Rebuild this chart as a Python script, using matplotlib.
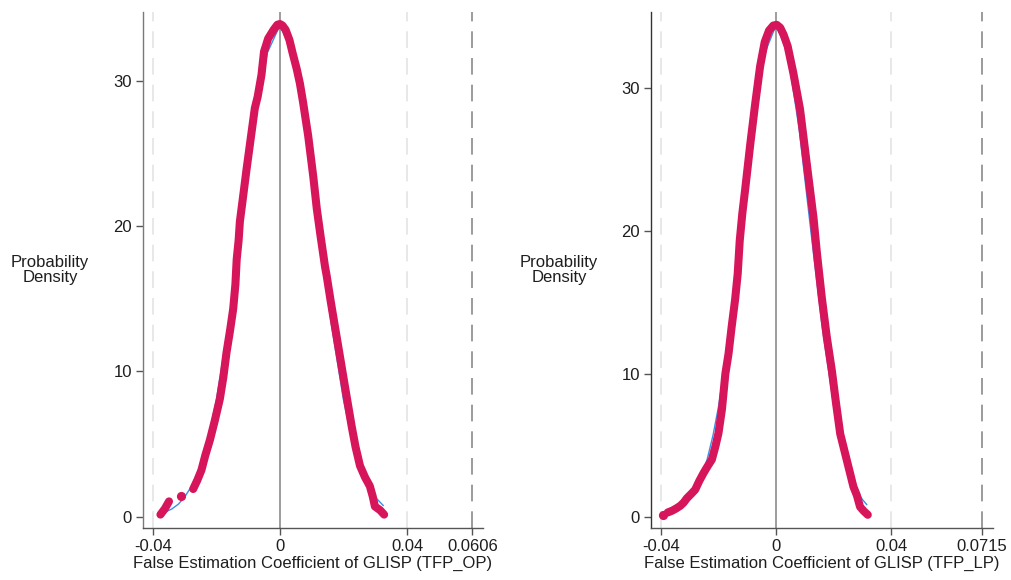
import numpy as np
import matplotlib
matplotlib.use("Agg")
import matplotlib.pyplot as plt

plt.rcParams['font.family'] = ['Liberation Sans', 'DejaVu Sans']

nan = np.nan

# ---- Left panel (TFP_OP) ----
op_red_x = [-0.0376, -0.0362, -0.0349, nan, -0.0310, nan,
            -0.0273, -0.0260, -0.0247, -0.0235, -0.0220, -0.0205, -0.0189, -0.0178,
            -0.0168, -0.0157, -0.0147, -0.0140, -0.0136, -0.0130, -0.0126, -0.0116,
            -0.0105, -0.0092, -0.0079, -0.0070, -0.0058, -0.0050, -0.0037, -0.0020,
            -0.0008, 0.0, 0.0008, 0.0018, 0.0030, 0.0040, 0.0053, 0.0063, 0.0073, 0.0089, 0.0105,
            0.0116, 0.0128, 0.0142, 0.0147, 0.0160, 0.0173, 0.0186, 0.0199, 0.0212,
            0.0226, 0.0238, 0.0252, 0.0268, 0.0283, 0.0292, 0.0299, 0.0315, 0.0328]
op_red_y = [0.14, 0.55, 1.05, nan, 1.45, nan,
            1.9, 2.5, 3.2, 4.2, 5.3, 6.6, 8.1, 9.6,
            11.3, 12.8, 14.3, 16.0, 17.7, 19.0, 20.3, 22.0,
            23.9, 26.0, 28.1, 28.9, 30.4, 32.0, 32.9, 33.5,
            33.85, 33.9, 33.8, 33.5, 32.8, 31.9, 30.8, 29.8, 28.5, 26.2, 23.4,
            21.2, 19.3, 17.2, 16.6, 14.8, 13.1, 11.4, 9.7, 8.0,
            6.2, 4.8, 3.5, 2.7, 2.1, 1.4, 0.7, 0.45, 0.14]
op_blue_x = [-0.0362, -0.034, -0.032, -0.030, -0.028, -0.026, -0.024, -0.022, -0.020,
             -0.016, -0.012, -0.008, -0.004, 0.0, 0.004, 0.008, 0.012, 0.016, 0.020,
             0.022, 0.024, 0.026, 0.028, 0.030, 0.0325]
op_blue_y = [0.30, 0.53, 0.85, 1.34, 2.03, 2.98, 4.27, 5.94, 8.04,
             13.5, 20.2, 26.9, 31.9, 33.8, 31.9, 26.9, 20.2, 13.5, 8.04,
             5.94, 4.27, 2.98, 2.03, 1.34, 0.77]
op_xticks = [-0.04, 0, 0.04, 0.0606]
op_xticklabels = ['-0.04', '0', '0.04', '0.0606']
op_xlabel = 'False Estimation Coefficient of GLISP (TFP_OP)'

# ---- Right panel (TFP_LP) ----
lp_red_x = [-0.0394, nan, -0.0378, -0.0361, -0.0347, -0.0334, -0.0322, -0.0311, -0.0296,
            -0.0282, -0.0268, -0.0253, -0.0240, -0.0224, -0.0212, -0.0201, -0.0189,
            -0.0177, -0.0166, -0.0155, -0.0143, -0.0134, -0.0127, -0.0118, -0.0108,
            -0.0090, -0.0073, -0.0056, -0.0040, -0.0025, -0.0010, 0.0002, 0.0014, 0.0026,
            0.0040, 0.0060, 0.0083, 0.0107, 0.0130, 0.0142, 0.0159, 0.0176, 0.0194, 0.0208,
            0.0223, 0.0246, 0.0269, 0.0281, 0.0292, 0.0305, 0.0319]
lp_red_y = [0.14, nan, 0.30, 0.44, 0.60, 0.77, 1.0, 1.3, 1.6,
            1.9, 2.5, 3.06, 3.5, 4.0, 4.9, 5.85, 7.5,
            10.0, 11.4, 13.3, 15.2, 17.0, 19.3, 21.2, 22.9,
            26.1, 28.9, 31.5, 33.2, 34.0, 34.35, 34.4, 34.2, 33.7,
            32.9, 31.0, 28.5, 24.6, 20.9, 18.4, 15.3, 12.6, 10.2, 8.0,
            5.8, 3.95, 2.1, 1.5, 0.7, 0.4, 0.14]
lp_blue_x = [-0.039, -0.038, -0.036, -0.034, -0.032, -0.030, -0.028, -0.026, -0.024,
             -0.022, -0.020, -0.016, -0.012, -0.008, -0.004, 0.0, 0.004, 0.008, 0.012,
             0.016, 0.020, 0.022, 0.024, 0.026, 0.028, 0.030, 0.0315]
lp_blue_y = [0.12, 0.16, 0.28, 0.47, 0.77, 1.22, 1.87, 2.8, 4.05,
             5.7, 7.8, 13.3, 20.1, 27.1, 32.4, 34.4, 32.4, 27.1, 20.1,
             13.3, 7.8, 5.7, 4.05, 2.8, 1.87, 1.22, 0.86]
lp_xticks = [-0.04, 0, 0.04, 0.0715]
lp_xticklabels = ['-0.04', '0', '0.04', '0.0715']
lp_xlabel = 'False Estimation Coefficient of GLISP (TFP_LP)'

yticks = [0, 10, 20, 30]
ylabel = 'Probability\nDensity'

RED = '#d6155b'
BLUE = '#3d8ee6'
TXT = '#1e1e1e'
FS = 12

fig = plt.figure(figsize=(10.11, 5.80), dpi=100)
ax1 = fig.add_axes([0.1414, 0.0897, 0.3363, 0.8897])
ax2 = fig.add_axes([0.6439, 0.0897, 0.3383, 0.8897])


def isolated(x):
    """indices of points standing alone between gaps"""
    idx = []
    n = len(x)
    for i in range(n):
        if np.isnan(x[i]):
            continue
        left = i == 0 or np.isnan(x[i - 1])
        right = i == n - 1 or np.isnan(x[i + 1])
        if left and right:
            idx.append(i)
    return idx


def panel(ax, rx, ry, bx, by, xt, xtl, xlab, xlim, ylim, spine_col):
    lo, mid, hi, far = xt
    ax.axvline(lo, color='#e4e4e4', lw=1.2, ls=(0, (10, 6)), zorder=1)
    ax.axvline(hi, color='#e4e4e4', lw=1.2, ls=(0, (10, 6)), zorder=1)
    ax.axvline(far, color='#8a8a8a', lw=1.2, ls=(0, (10, 6)), zorder=1)
    ax.axvline(mid, color='#8c8c8c', lw=1.2, zorder=1)
    ax.plot(bx, by, color=BLUE, lw=1.0, zorder=2)
    iso = isolated(rx)
    ax.plot(rx, ry, color=RED, lw=5.8, solid_capstyle='round',
            solid_joinstyle='round', marker='o' if iso else None,
            markevery=iso if iso else None, ms=6.6, mew=0, zorder=3)
    ax.set_xlim(*xlim)
    ax.set_ylim(*ylim)
    ax.set_xticks(xt)
    ax.set_xticklabels(xtl)
    ax.set_yticks(yticks)
    ax.set_xlabel(xlab, fontsize=FS, color=TXT, labelpad=1)
    for s in ['top', 'right']:
        ax.spines[s].set_visible(False)
    ax.spines['left'].set_color(spine_col)
    ax.spines['bottom'].set_color('#555555')
    ax.spines['left'].set_linewidth(1.0)
    ax.spines['bottom'].set_linewidth(1.0)
    ax.tick_params(axis='both', colors='#555555', labelcolor=TXT,
                   labelsize=FS, length=5, width=1.0, pad=3)


panel(ax1, op_red_x, op_red_y, op_blue_x, op_blue_y, op_xticks, op_xticklabels,
      op_xlabel, (-0.0431, 0.0639), (-0.78, 34.73), '#7a7a7a')
panel(ax2, lp_red_x, lp_red_y, lp_blue_x, lp_blue_y, lp_xticks, lp_xticklabels,
      lp_xlabel, (-0.0436, 0.0755), (-0.78, 35.3), '#333333')

fig.text(50 / 1011, 1 - 270 / 580, ylabel, ha='center', va='center',
         fontsize=FS, color=TXT, linespacing=0.95)
fig.text(559 / 1011, 1 - 270 / 580, ylabel, ha='center', va='center',
         fontsize=FS, color=TXT, linespacing=0.95)

fig.savefig('out.png', dpi=100, facecolor='white')
